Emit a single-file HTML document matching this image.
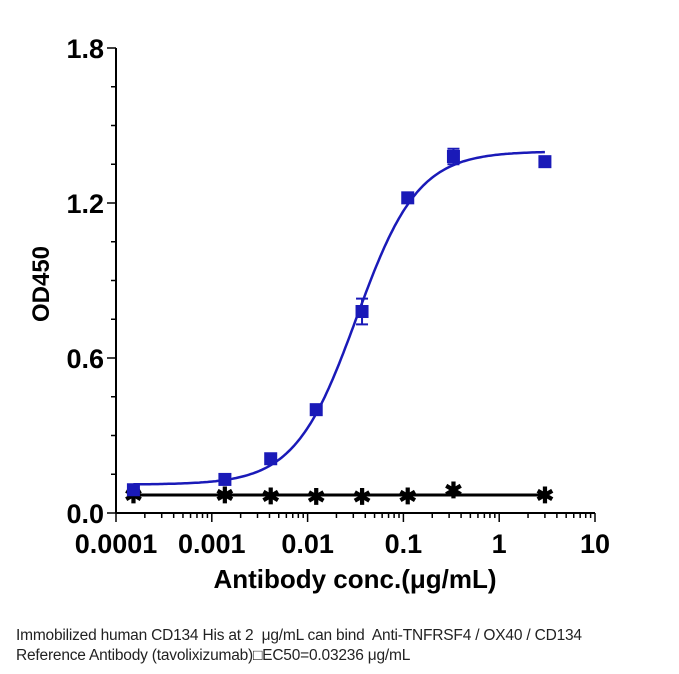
<!DOCTYPE html>
<html><head><meta charset="utf-8"><style>
body{margin:0;background:#fff;width:679px;height:674px;overflow:hidden;font-family:"Liberation Sans",sans-serif}
svg text{font-family:"Liberation Sans",sans-serif}
.cap{position:absolute;left:16px;font-size:15.5px;color:#222;white-space:nowrap;letter-spacing:-0.2px}
</style></head><body>
<svg id="chart" width="679" height="674" style="position:absolute;left:0;top:0"></svg>
<div class="cap" style="top:627px">Immobilized human CD134 His at 2&nbsp; μg/mL can bind&nbsp; Anti-TNFRSF4 / OX40 / CD134</div>
<div class="cap" style="top:647px">Reference Antibody (tavolixizumab)&#x25A1;EC50=0.03236 μg/mL</div>
<script>
const conc=[0.000152,0.00137,0.00412,0.0123,0.037,0.111,0.333,3];
const sample=[0.09,0.13,0.21,0.40,0.78,1.22,1.38,1.36];
const sampleErr=[0.01,0.01,0.01,0.01,0.05,0.02,0.03,0.01];
const control=[0.07,0.07,0.065,0.063,0.063,0.065,0.09,0.07];
const fitParams=[0.11,1.40,0.03236,1.35]; // bottom, top, EC50, hill
const xTicks=[0.0001,0.001,0.01,0.1,1,10];
const xTickLabels=["0.0001","0.001","0.01","0.1","1","10"];
const yTicks=[0,0.6,1.2,1.8];
const yTickLabels=["0.0","0.6","1.2","1.8"];

const svg=document.getElementById('chart');
const NS='http://www.w3.org/2000/svg';
const X0=116,X1=595,Y0=513,Y1=48;
const xs=v=>X0+(Math.log10(v)+4)/5*(X1-X0);
const ys=v=>Y0-v/1.8*(Y0-Y1);
function mk(t,a){const e=document.createElementNS(NS,t);for(const k in a)e.setAttribute(k,a[k]);svg.appendChild(e);return e;}
let e;
e=mk('line',{x1:X0,y1:Y0,x2:X1,y2:Y0,stroke:'#000','stroke-width':2});


e=mk('line',{x1:X0,y1:Y1,x2:X0,y2:Y0,stroke:'#000','stroke-width':2});


for(let d=-4;d<=1;d++){for(let m=1;m<=9;m++){const v=m*Math.pow(10,d);if(v>10.0001)break;const x=xs(v);
 e=mk('line',{x1:x,y1:Y0,x2:x,y2:Y0+(m==1?9:5),stroke:'#000','stroke-width':1.5});
 
 }}
xTicks.forEach((v,i)=>{e=mk('text',{x:xs(v),y:553,'text-anchor':'middle','font-size':27,'font-weight':'bold'});e.textContent=xTickLabels[i];
 
 });
for(let k=0;k<=12;k++){const v=k*0.15,y=ys(v);const maj=k%4==0;
 e=mk('line',{x1:X0-(maj?9:5),y1:y,x2:X0,y2:y,stroke:'#000','stroke-width':1.5});
 
 }
yTicks.forEach((v,i)=>{e=mk('text',{x:104,y:ys(v)+10,'text-anchor':'end','font-size':27,'font-weight':'bold'});e.textContent=yTickLabels[i];
 
 });
e=mk('text',{x:355,y:588,'text-anchor':'middle','font-size':26,'font-weight':'bold'});e.textContent='Antibody conc.(μg/mL)';


e=mk('text',{x:0,y:0,transform:'translate(49,284) rotate(-90)','text-anchor':'middle','font-size':24,'font-weight':'bold'});e.textContent='OD450';


const [b,t,ec,h]=fitParams;let d='';
for(let i=0;i<=200;i++){const lx=Math.log10(conc[0])+i/200*(Math.log10(conc[conc.length-1])-Math.log10(conc[0]));const v=Math.pow(10,lx);
 const yv=b+(t-b)/(1+Math.pow(ec/v,h));d+=(i?'L':'M')+xs(v).toFixed(1)+','+ys(yv).toFixed(1);}
e=mk('path',{d:d,fill:'none',stroke:'#1a1ab8','stroke-width':2.5});


const cMean=control.reduce((a,c)=>a+c,0)/control.length;
e=mk('line',{x1:xs(conc[0]),y1:ys(cMean),x2:xs(conc[conc.length-1]),y2:ys(cMean),stroke:'#000','stroke-width':3});


conc.forEach((c,i)=>{const x=xs(c),y=ys(control[i]);
 e=mk('text',{x:x,y:y+8,'text-anchor':'middle','font-size':22,'font-weight':'bold',fill:'#000'});e.textContent='✱';
 
 });
conc.forEach((c,i)=>{const x=xs(c),y=ys(sample[i]);
 const ye1=ys(sample[i]+sampleErr[i]),ye2=ys(sample[i]-sampleErr[i]);
 e=mk('path',{d:`M${x},${ye1}V${ye2}M${x-6},${ye1}H${x+6}M${x-6},${ye2}H${x+6}`,stroke:'#1a1ab8','stroke-width':2,fill:'none'});
 
 
 e=mk('rect',{x:x-6.5,y:y-6.5,width:13,height:13,fill:'#1a1ab8'});
 
 });
</script>
</body></html>
